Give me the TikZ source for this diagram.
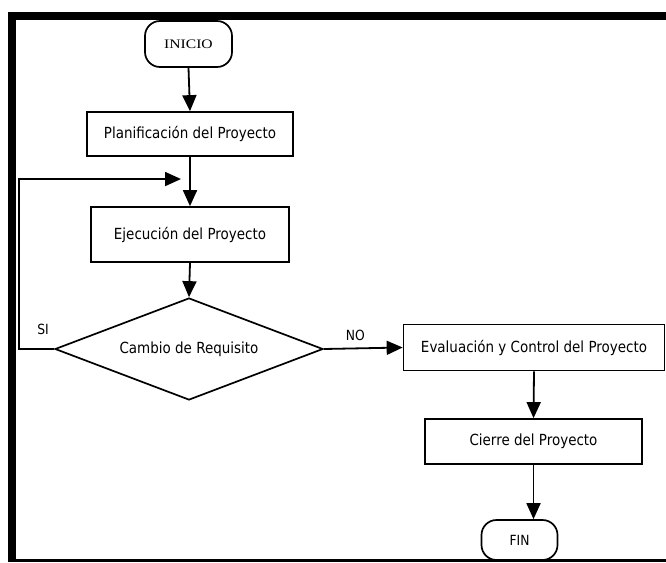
\documentclass[tikz,border=0pt]{standalone}
\usepackage{fontspec}
\setmainfont{DejaVu Sans}
\newfontfamily\boxfont[FakeStretch=0.88]{DejaVu Sans}
\newfontfamily\termfont[FakeStretch=1.2]{Liberation Serif}
\usetikzlibrary{shapes.geometric,arrows.meta,calc}

\tikzset{
  every picture/.style={x=1pt,y=-1pt},
  flowline/.style={line width=1.8pt},
  flowarrow/.style={flowline,-{Triangle[length=16pt,width=14pt]}},
  procbox/.style={draw,line width=1.7pt,fill=white,inner sep=0pt,
    font=\boxfont\fontsize{15.3}{18}\selectfont},
  terminal/.style={draw,line width=1.7pt,fill=white,rounded corners=15pt,inner sep=0pt},
  decision/.style={draw,diamond,aspect=2.63,line width=1.7pt,fill=white,inner sep=0pt,
    font=\boxfont\fontsize{15.3}{18}\selectfont},
  branchlabel/.style={font=\boxfont\fontsize{14}{16}\selectfont,inner sep=0pt},
}

\begin{document}
\begin{tikzpicture}
  \useasboundingbox (0,0) rectangle (666,562);
  \fill[white] (0,0) rectangle (666,562);

  % start
  \node[terminal,minimum width=87pt,minimum height=46pt,
        font=\termfont\fontsize{13}{15}\selectfont] (inicio) at (188.5,44) {INICIO};

  % process steps
  \node[procbox,minimum width=206pt,minimum height=44pt] (plan) at (190,134)
    {Planificación del Proyecto};
  \node[procbox,minimum width=198pt,minimum height=55pt] (ejec) at (190,234.5)
    {Ejecución del Proyecto};
  \node[decision,minimum width=268pt,minimum height=102pt] (dec) at (189,349)
    {Cambio de Requisito};
  \node[procbox,minimum width=261pt,minimum height=46pt] (eval) at (534,347.5)
    {Evaluación y Control del Proyecto};
  \node[procbox,minimum width=217pt,minimum height=45pt] (cierre) at (533.5,441.5)
    {Cierre del Proyecto};

  % end
  \node[terminal,minimum width=76pt,minimum height=40pt,
        font=\boxfont\fontsize{14}{16}\selectfont] (fin) at (519.5,540) {FIN};

  % main flow
  \draw[flowarrow] (inicio.south) -- (plan.north);
  \draw[flowarrow] (plan.south) -- (ejec.north);
  \draw[flowarrow] (ejec.south) -- (dec.north);
  \draw[flowarrow] (dec.east) -- node[branchlabel,above=7pt,pos=0.4] (no) {NO} (eval.west);
  \draw[flowarrow] (eval.south) -- (cierre.north);
  \draw[flowarrow] (cierre.south) -- (cierre.south |- fin.north);

  % feedback loop when a requirement changes
  \coordinate (loopin) at ($(plan.south)!0.45!(ejec.north)+(-9,0)$);
  \draw[flowarrow] (dec.west) -- (19,349) |- (loopin);
  \node[branchlabel] (si) at (43,329) {SI};

  % frame
  \fill[black] (8,12) rectangle (16,562);
  \fill[black] (8,12) rectangle (666,20);
  \fill[black] (8,559) rectangle (666,562);
\end{tikzpicture}
\end{document}
